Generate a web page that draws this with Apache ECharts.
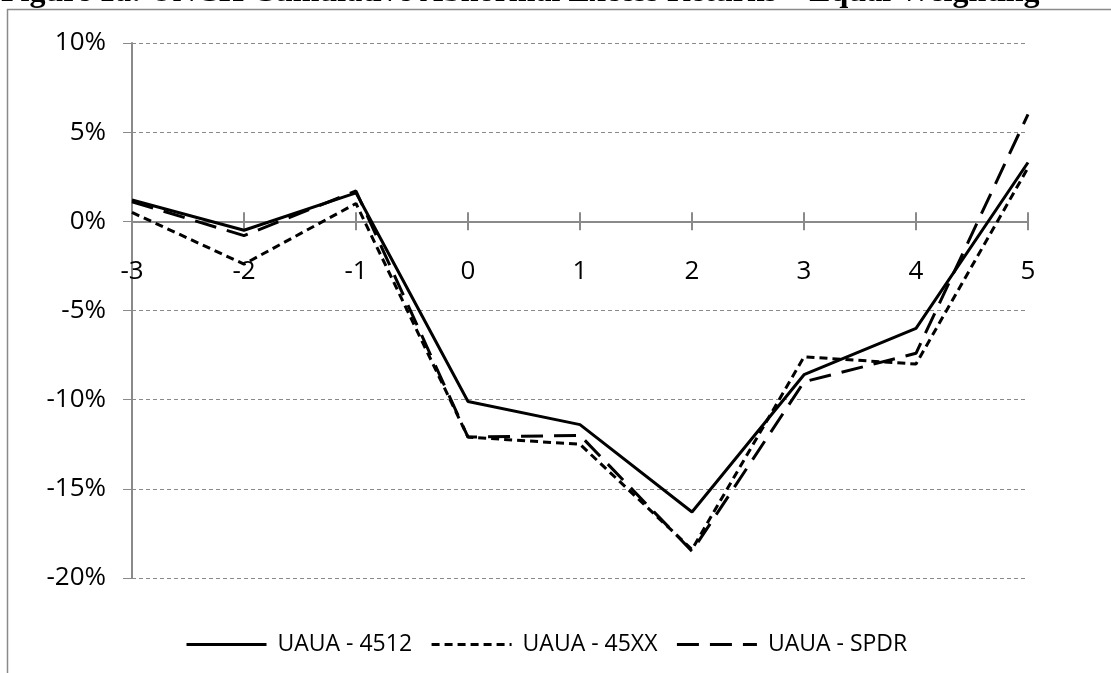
<!DOCTYPE html>
<html>
<head>
<meta charset="utf-8">
<script src="https://cdn.jsdelivr.net/npm/echarts@6/dist/echarts.min.js"></script>
<style>
  html, body { margin: 0; padding: 0; background: #fff; }
  #main { width: 1111px; height: 673px; }
</style>
</head>
<body>
<div id="main"></div>
<script>
// event days and cumulative abnormal excess returns (%)
var days = ['-3', '-2', '-1', '0', '1', '2', '3', '4', '5'];
var ua4512 = [1.2, -0.5, 1.6, -10.1, -11.4, -16.3, -8.6, -6.0, 3.3];
var ua45xx = [0.5, -2.4, 1.0, -12.1, -12.5, -18.4, -7.6, -8.0, 3.0];
var uaSpdr = [1.1, -0.8, 1.7, -12.1, -12.0, -18.5, -9.0, -7.4, 6.0];
var names = ['UAUA - 4512', 'UAUA - 45XX', 'UAUA - SPDR'];

var font = '"Open Sans", sans-serif';
var grey = '#8a8a8a';

var chart = echarts.init(document.getElementById('main'));

var xBase = {
  type: 'category',
  data: days,
  boundaryGap: false,
  position: 'bottom',
  axisLine: { onZero: true, onZeroAxisIndex: 0, lineStyle: { color: grey, width: 2 } },
  axisLabel: { show: false },
  splitLine: { show: false }
};

// plot is 535px tall for -20..10, so the zero line sits 10/30 of the way down
var plotTop = 43, plotH = 535;

var option = {
  backgroundColor: '#fff',
  animation: false,
  graphic: [
    {
      type: 'rect',
      shape: { x: 7.5, y: 9.5, width: 1300, height: 900 },
      style: { fill: 'none', stroke: grey, lineWidth: 1.5 },
      silent: true
    },
    {
      type: 'text',
      x: 1,
      y: -7,
      style: {
        text: 'Figure 1a: UNCH Cumulative Abnormal Excess Returns \u2013 Equal Weighting',
        font: 'bold 32px "Liberation Serif", "Times New Roman", serif',
        fill: '#000',
        verticalAlign: 'middle'
      },
      silent: true
    }
  ],
  grid: [
    { left: 132, right: 83, top: plotTop, height: plotH, containLabel: false },
    // label strip: its bottom edge lies on the 0% line
    { left: 132, right: 83, top: plotTop, height: plotH * 10 / 30, containLabel: false }
  ],
  legend: {
    data: names,
    bottom: 12,
    left: 180,
    itemWidth: 80,
    itemHeight: 14,
    itemGap: 18,
    itemStyle: { opacity: 0 },
    lineStyle: { width: 3 },
    textStyle: { fontFamily: font, fontSize: 23, color: '#000', padding: [0, 0, 0, 6] }
  },
  xAxis: [
    Object.assign({}, xBase, {
      axisTick: { show: true, length: 9, lineStyle: { color: grey, width: 2 } }
    }),
    Object.assign({}, xBase, {
      axisTick: { show: true, inside: true, length: 9, lineStyle: { color: grey, width: 2 } }
    }),
    {
      type: 'category',
      gridIndex: 1,
      data: days,
      boundaryGap: false,
      axisLine: { show: false },
      axisTick: { show: false },
      splitLine: { show: false },
      axisLabel: { fontFamily: font, fontSize: 26, color: '#000', margin: 37 }
    }
  ],
  yAxis: [
    {
      type: 'value',
      min: -20,
      max: 10,
      interval: 5,
      axisLine: { show: true, lineStyle: { color: grey, width: 2 } },
      axisTick: { show: true, length: 9, lineStyle: { color: grey, width: 1 } },
      axisLabel: { formatter: '{value}%', fontFamily: font, fontSize: 26, color: '#000', margin: 26 },
      splitLine: { show: true, lineStyle: { color: grey, width: 1, type: [4, 3] } }
    },
    { type: 'value', gridIndex: 1, show: false, min: 0, max: 10 }
  ],
  series: [
    {
      name: names[0],
      type: 'line',
      data: ua4512,
      symbol: 'none',
      z: 4,
      lineStyle: { color: '#000', width: 3, type: 'solid' },
      itemStyle: { color: '#000' }
    },
    {
      name: names[1],
      type: 'line',
      data: ua45xx,
      symbol: 'none',
      z: 3,
      lineStyle: { color: '#000', width: 3, type: [8, 5] },
      itemStyle: { color: '#000' }
    },
    {
      name: names[2],
      type: 'line',
      data: uaSpdr,
      symbol: 'none',
      z: 2,
      lineStyle: { color: '#000', width: 3, type: [22, 11] },
      itemStyle: { color: '#000' }
    }
  ]
};

chart.setOption(option);
</script>
</body>
</html>
